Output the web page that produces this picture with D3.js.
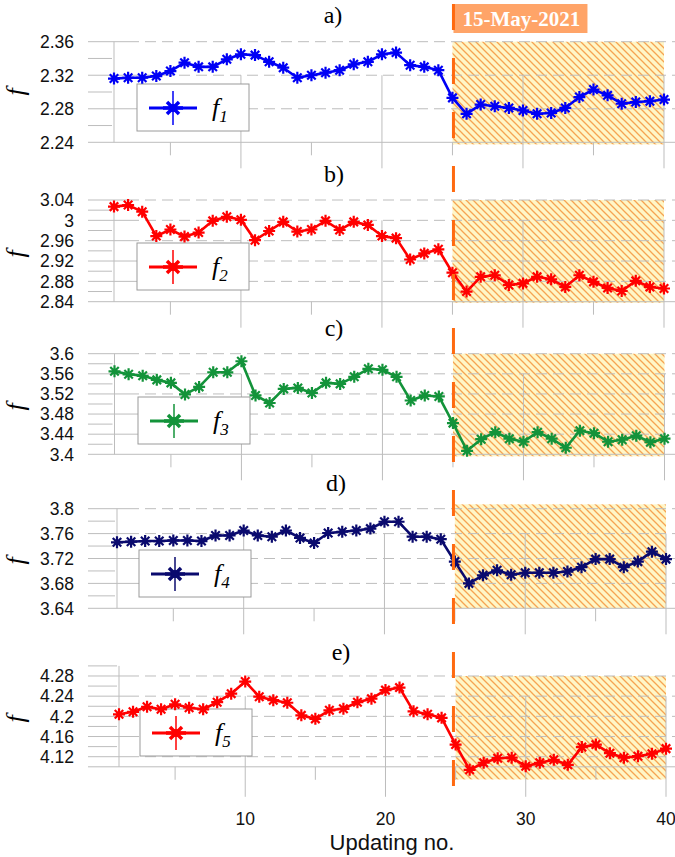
<!DOCTYPE html>
<html>
<head>
<meta charset="utf-8">
<script src="https://cdn.jsdelivr.net/npm/d3@7"></script>
<style>
  html, body { margin: 0; padding: 0; background: #fff; }
  svg { display: block; }
</style>
</head>
<body>
<svg id="chart" width="675" height="857"></svg>
<script>
// ---- data ----
const updatingNo = [1,2,3,4,5,6,7,8,9,10,11,12,13,14,15,16,17,18,19,20,
                    21,22,23,24,25,26,27,28,29,30,31,32,33,34,35,36,37,38,39,40];

const f1 = [2.316,2.317,2.317,2.319,2.325,2.335,2.330,2.330,2.339,2.345,
            2.344,2.336,2.329,2.317,2.320,2.323,2.326,2.333,2.336,2.345,
            2.347,2.332,2.330,2.326,2.293,2.274,2.285,2.283,2.281,2.278,
            2.274,2.275,2.281,2.294,2.303,2.296,2.286,2.288,2.289,2.291];

const f2 = [3.027,3.030,3.017,2.969,2.982,2.968,2.976,2.999,3.007,3.001,
            2.961,2.979,2.997,2.978,2.982,2.999,2.981,2.997,2.991,2.969,
            2.965,2.923,2.935,2.943,2.897,2.860,2.889,2.892,2.873,2.876,
            2.889,2.884,2.869,2.892,2.879,2.867,2.861,2.881,2.869,2.866];

const f3 = [3.565,3.559,3.556,3.548,3.542,3.519,3.534,3.563,3.563,3.585,
            3.517,3.502,3.530,3.532,3.522,3.542,3.540,3.554,3.570,3.568,
            3.554,3.507,3.517,3.515,3.462,3.407,3.430,3.444,3.431,3.425,
            3.444,3.431,3.413,3.447,3.442,3.425,3.429,3.437,3.424,3.431];

const f4 = [3.746,3.747,3.748,3.748,3.749,3.749,3.748,3.757,3.757,3.765,
            3.757,3.755,3.765,3.753,3.745,3.761,3.763,3.765,3.768,3.779,
            3.779,3.755,3.755,3.751,3.715,3.680,3.693,3.701,3.694,3.697,
            3.697,3.697,3.699,3.706,3.719,3.719,3.706,3.715,3.731,3.719];

const f5 = [4.204,4.209,4.219,4.214,4.224,4.217,4.214,4.228,4.245,4.269,
            4.239,4.232,4.227,4.202,4.195,4.212,4.215,4.228,4.235,4.252,
            4.257,4.210,4.204,4.197,4.144,4.094,4.108,4.117,4.118,4.101,
            4.108,4.114,4.104,4.139,4.144,4.127,4.118,4.121,4.126,4.136];

const panelTitles = ["a)", "b)", "c)", "d)", "e)"];
const seriesSubscripts = ["1", "2", "3", "4", "5"];

const yDomains = [[2.24, 2.36], [2.84, 3.04], [3.40, 3.60], [3.64, 3.80], [4.10, 4.30]];
const yTicks = [
  [2.24, 2.28, 2.32, 2.36],
  [2.84, 2.88, 2.92, 2.96, 3.00, 3.04],
  [3.40, 3.44, 3.48, 3.52, 3.56, 3.60],
  [3.64, 3.68, 3.72, 3.76, 3.80],
  [4.12, 4.16, 4.20, 4.24, 4.28]
];
const yTickLabels = [
  ["2.24", "2.28", "2.32", "2.36"],
  ["2.84", "2.88", "2.92", "2.96", "3", "3.04"],
  ["3.4", "3.44", "3.48", "3.52", "3.56", "3.6"],
  ["3.64", "3.68", "3.72", "3.76", "3.8"],
  ["4.12", "4.16", "4.2", "4.24", "4.28"]
];
// value band covered by the post-event shading in each panel
const shadeRanges = [[2.2375, 2.36], [2.838, 3.04], [3.396, 3.60], [3.64, 3.807], [4.075, 4.28]];

const xTicks = [10, 20, 30, 40];
const xTickLabels = ["10", "20", "30", "40"];
const eventUpdate = 25;
const eventLabel = "15-May-2021";
const xTitle = "Updating no.";
const yTitle = "f";

// ---- styling ----
const seriesColors = ["#0000F5", "#FF0000", "#13933A", "#0A0A6E", "#FF0000"];
const allSeries = [f1, f2, f3, f4, f5];

// panel geometry (pixels)
const panels = [
  { yPx: [142.3, 41.7],  xPx: [114, 664], titleY: 23,  titleX: 333, ylabY: 92,  legend: [137, 84] },
  { yPx: [301.7, 200],   xPx: [114, 664], titleY: 182, titleX: 334, ylabY: 254, legend: [137, 243] },
  { yPx: [454.3, 353.7], xPx: [114.5, 664.5], titleY: 336, titleX: 334, ylabY: 407, legend: [138, 397] },
  { yPx: [608.3, 508.7], xPx: [117, 666], titleY: 491, titleX: 336, ylabY: 561, legend: [139, 550] },
  { yPx: [766.8, 665.9], xPx: [119, 666], titleY: 660, titleX: 341, ylabY: 719, legend: [140, 709] }
];

const SANS = "'Liberation Sans', Arial, sans-serif";
const SERIF = "'Liberation Serif', 'Times New Roman', serif";
const GRID = "#bdbdbd";

const svg = d3.select("#chart");

// diagonal hatch used for the period after the event
const defs = svg.append("defs");
const pat = defs.append("pattern")
  .attr("id", "hatch").attr("patternUnits", "userSpaceOnUse")
  .attr("width", 7).attr("height", 7);
pat.append("rect").attr("width", 7).attr("height", 7).attr("fill", "#FFF6C6");
pat.append("path")
  .attr("d", "M-2,-2L9,9M-2,5L2,9M5,-2L9,2")
  .attr("stroke", "#F6A452").attr("stroke-width", 1.3);

function starPath(r) {
  const d = r * Math.SQRT1_2;
  return `M${-r},0L${r},0M0,${-r}L0,${r}M${-d},${-d}L${d},${d}M${-d},${d}L${d},${-d}`;
}

const GRID_LEFT = 88;
const GRID_RIGHT = 675;

panels.forEach((p, i) => {
  const g = svg.append("g");
  const dom = yDomains[i];
  const y = d3.scaleLinear().domain(dom).range(p.yPx);
  const x = d3.scaleLinear().domain([updatingNo[0], updatingNo[updatingNo.length - 1]]).range(p.xPx);
  const base = y(dom[0]);

  // shaded region after the event
  g.append("rect")
    .attr("x", x(eventUpdate)).attr("width", x(updatingNo[updatingNo.length - 1]) - x(eventUpdate))
    .attr("y", y(shadeRanges[i][1])).attr("height", y(shadeRanges[i][0]) - y(shadeRanges[i][1]))
    .attr("fill", "url(#hatch)");

  // minor horizontal ticks every 0.02
  const minors = d3.range(Math.round(dom[0] * 50), Math.round(dom[1] * 50) + 1)
    .map(v => v / 50)
    .filter(v => !yTicks[i].some(t => Math.abs(t - v) < 1e-6) && Math.abs(v - dom[0]) > 1e-6);
  g.selectAll(".minor").data(minors).join("line")
    .attr("x1", GRID_LEFT).attr("x2", x.range()[0] - 2)
    .attr("y1", d => y(d)).attr("y2", d => y(d))
    .attr("stroke", GRID).attr("stroke-width", 1);

  // major horizontal gridlines
  yTicks[i].forEach(t => {
    const yy = y(t);
    if (Math.abs(t - dom[0]) < 1e-6) return;
    g.append("line").attr("x1", GRID_LEFT).attr("x2", 128).attr("y1", yy).attr("y2", yy)
      .attr("stroke", GRID);
    g.append("line").attr("x1", 128).attr("x2", GRID_RIGHT).attr("y1", yy).attr("y2", yy)
      .attr("stroke", GRID).attr("stroke-dasharray", "11 6");
  });
  // baseline
  g.append("line").attr("x1", GRID_LEFT).attr("x2", GRID_RIGHT).attr("y1", base).attr("y2", base)
    .attr("stroke", GRID);

  // left axis line
  g.append("line").attr("x1", x.range()[0]).attr("x2", x.range()[0])
    .attr("y1", y(dom[1])).attr("y2", base).attr("stroke", GRID);

  // vertical gridlines / ticks
  const secondTick = yTicks[i][yTicks[i].length - 2];
  xTicks.forEach(t => {
    g.append("line").attr("x1", x(t)).attr("x2", x(t))
      .attr("y1", y(secondTick)).attr("y2", base + (i === 4 ? 30 : 26))
      .attr("stroke", GRID);
  });
  xTicks.map(t => t - 5).forEach(t => {
    g.append("line").attr("x1", x(t)).attr("x2", x(t))
      .attr("y1", base).attr("y2", base + 13).attr("stroke", GRID);
  });

  // y tick labels
  g.selectAll(".ylab").data(yTicks[i]).join("text")
    .attr("x", 74).attr("y", d => y(d)).attr("dy", "0.36em")
    .attr("text-anchor", "end")
    .attr("font-family", SANS).attr("font-size", 17.5).attr("fill", "#111")
    .text((d, k) => yTickLabels[i][k]);

  // y axis title
  g.append("text")
    .attr("transform", `translate(24,${p.ylabY}) rotate(-90)`)
    .attr("text-anchor", "middle")
    .attr("font-family", SERIF).attr("font-style", "italic").attr("font-size", 26)
    .text(yTitle);

  // panel title
  g.append("text").attr("x", p.titleX).attr("y", p.titleY)
    .attr("text-anchor", "middle")
    .attr("font-family", SERIF).attr("font-size", 24).attr("fill", "#000")
    .text(panelTitles[i]);

  // legend
  const lg = g.append("g").attr("transform", `translate(${p.legend[0]},${p.legend[1]})`);
  lg.append("rect").attr("width", 112).attr("height", 47)
    .attr("fill", "#fff").attr("stroke", "#9a9a9a").attr("stroke-width", 1);
  lg.append("line").attr("x1", 12).attr("x2", 60).attr("y1", 24).attr("y2", 24)
    .attr("stroke", seriesColors[i]).attr("stroke-width", 3.2);
  lg.append("path").attr("transform", "translate(36,24)")
    .attr("d", (() => { const d = 8.5 * Math.SQRT1_2; return `M${-d},${-d}L${d},${d}M${-d},${d}L${d},${-d}M-10,0L10,0`; })())
    .attr("stroke", seriesColors[i]).attr("stroke-width", 3.5).attr("fill", "none");
  lg.append("line").attr("x1", 36).attr("x2", 36).attr("y1", 7).attr("y2", 41)
    .attr("stroke", seriesColors[i]).attr("stroke-width", 1.5);
  lg.append("circle").attr("cx", 36).attr("cy", 24).attr("r", 4).attr("fill", seriesColors[i]);
  const lt = lg.append("text").attr("x", 75).attr("y", 32)
    .attr("font-family", SERIF).attr("font-style", "italic").attr("font-size", 26).attr("fill", "#000");
  lt.append("tspan").text(yTitle);
  lt.append("tspan").attr("dy", 6).attr("font-size", 17).text(seriesSubscripts[i]);

  // series line and star markers
  const pts = updatingNo.map((u, k) => [u, allSeries[i][k]]);
  g.append("path").datum(pts)
    .attr("d", d3.line().x(d => x(d[0])).y(d => y(d[1])))
    .attr("fill", "none").attr("stroke", seriesColors[i]).attr("stroke-width", 2.6)
    .attr("stroke-linejoin", "round");
  g.selectAll(".star").data(pts).join("path")
    .attr("transform", d => `translate(${x(d[0])},${y(d[1])})`)
    .attr("d", starPath(6))
    .attr("stroke", seriesColors[i]).attr("stroke-width", 2.2).attr("fill", "none");

  // x tick labels on the bottom panel
  if (i === panels.length - 1) {
    g.selectAll(".xlab").data(xTicks).join("text")
      .attr("x", d => x(d)).attr("y", 825)
      .attr("text-anchor", "middle")
      .attr("font-family", SANS).attr("font-size", 17.5).attr("fill", "#111")
      .text((d, k) => xTickLabels[k]);
    g.append("text").attr("x", 392).attr("y", 850)
      .attr("text-anchor", "middle")
      .attr("font-family", SANS).attr("font-size", 22).attr("fill", "#111")
      .text(xTitle);
  }
});

// event marker: dashed vertical line and date tag
const xa = d3.scaleLinear().domain([updatingNo[0], updatingNo[updatingNo.length - 1]]).range(panels[0].xPx);
const ex = xa(eventUpdate) + 1;
svg.append("rect").attr("x", ex).attr("y", 4).attr("width", 134).attr("height", 29)
  .attr("fill", "#FFA468");
svg.append("text").attr("x", ex + 68).attr("y", 26)
  .attr("text-anchor", "middle")
  .attr("font-family", SERIF).attr("font-weight", "bold").attr("font-size", 21).attr("fill", "#fff")
  .text(eventLabel);
svg.append("line").attr("x1", ex).attr("x2", ex).attr("y1", 4).attr("y2", 786)
  .attr("stroke", "#FF6A10").attr("stroke-width", 3).attr("stroke-dasharray", "26 28");
</script>
</body>
</html>
